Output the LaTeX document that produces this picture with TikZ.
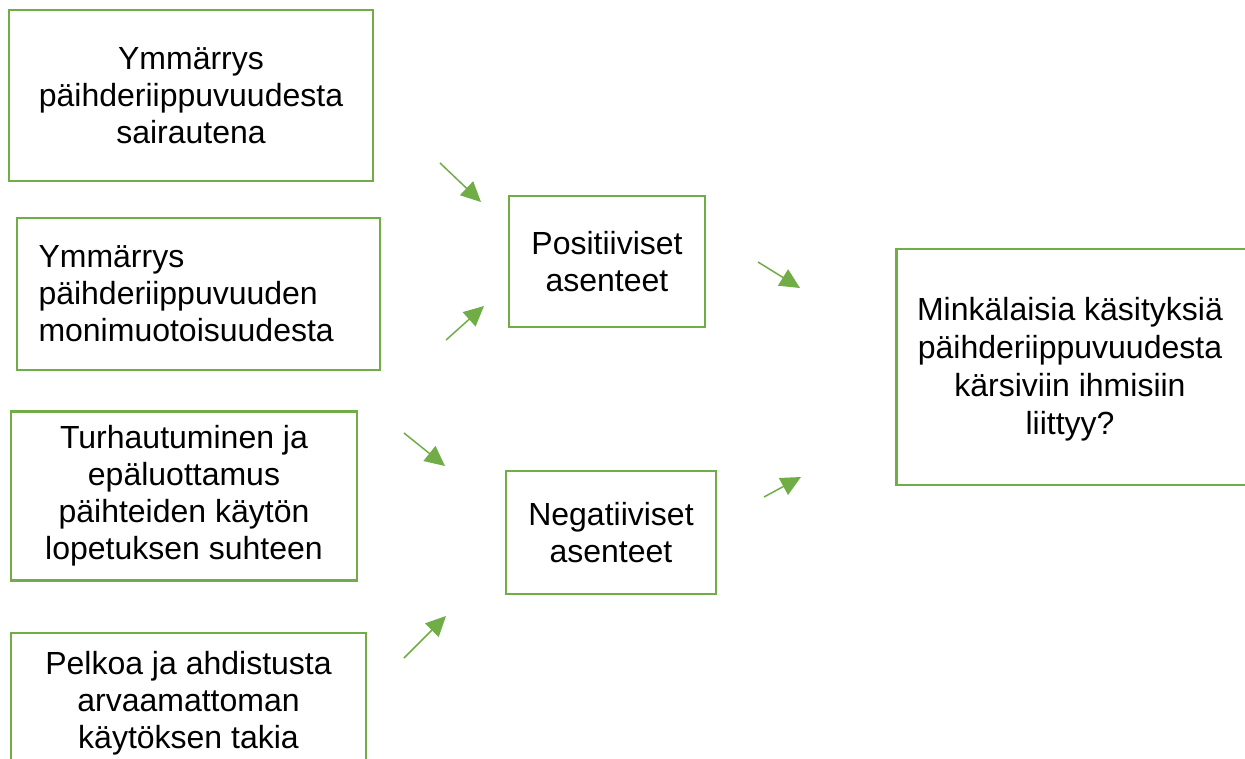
\documentclass[tikz,border=0pt]{standalone}
\usepackage{fontspec}
\setmainfont{Liberation Sans}
\usetikzlibrary{arrows.meta}
\definecolor{grn}{HTML}{70AD47}
\tikzset{
  box/.style={draw=grn, line width=2.5pt, rectangle, inner sep=0pt, align=center,
    font=\fontsize{32}{37}\selectfont, text=black},
  txt/.style={inner sep=0pt, align=center, font=\fontsize{32}{38}\selectfont, text=black},
  arr/.style={draw=grn, line width=1.5pt, -{Triangle[length=20pt,width=19pt]}}
}
\begin{document}
\begin{tikzpicture}[x=1pt,y=-1pt]
\useasboundingbox (0,0) rectangle (1245,758);
\clip (0,0) rectangle (1245,758);
\node[box, minimum width=364, minimum height=171] (A) at (191,95.5) {Ymmärrys\\päihderiippuvuudesta\\sairautena};
\node[box, minimum width=363, minimum height=152, text width=320, align=left, inner xsep=21.5] (B) at (198.5,294) {Ymmärrys\\päihderiippuvuuden\\monimuotoisuudesta};
\node[box, minimum width=346, minimum height=169] (C) at (184,496) {Turhautuminen ja\\epäluottamus\\päihteiden käytön\\lopetuksen suhteen};
\node[box, minimum width=355, minimum height=140] (D) at (188.5,703) {Pelkoa ja ahdistusta\\arvaamattoman\\käytöksen takia};
\node[box, minimum width=196, minimum height=131] (P) at (607,261.5) {Positiiviset\\asenteet};
\node[box, minimum width=210, minimum height=123] (N) at (611,532.5) {Negatiiviset\\asenteet};
\node[box, minimum width=420, minimum height=236, anchor=west] (R) at (895,367) {};
\node[txt] (Rt) at (1070,369) {Minkälaisia käsityksiä\\päihderiippuvuudesta\\kärsiviin ihmisiin\\liittyy?};
\coordinate (a1) at (440,163); \coordinate (a2) at (481,202);
\coordinate (b1) at (446,340); \coordinate (b2) at (484,306);
\coordinate (c1) at (404,433); \coordinate (c2) at (445,466);
\coordinate (d1) at (404,658); \coordinate (d2) at (446,616);
\coordinate (e1) at (758,262); \coordinate (e2) at (800,288);
\coordinate (f1) at (764,497); \coordinate (f2) at (801,477);
\draw[arr] (a1) -- (a2);
\draw[arr] (b1) -- (b2);
\draw[arr] (c1) -- (c2);
\draw[arr] (d1) -- (d2);
\draw[arr] (e1) -- (e2);
\draw[arr] (f1) -- (f2);
\end{tikzpicture}
\end{document}
